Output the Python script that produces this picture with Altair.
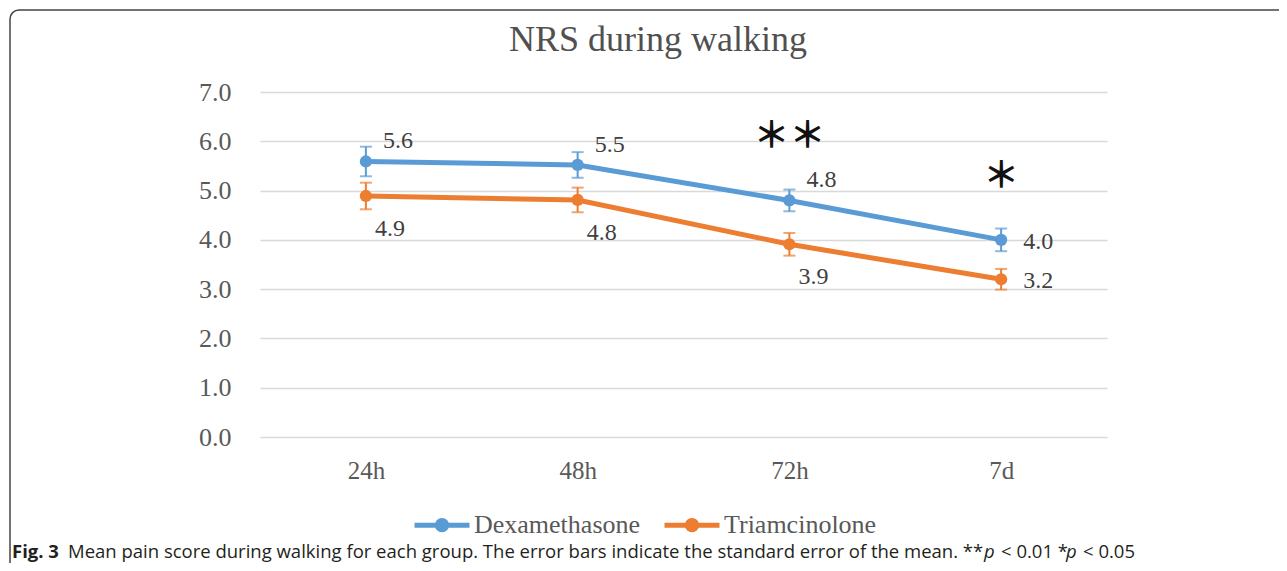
import altair as alt
import pandas as pd

# ---- data ----
timepoints = ["24h", "48h", "72h", "7d"]
series_names = ["Dexamethasone", "Triamcinolone"]
dex_mean = [5.59, 5.52, 4.80, 4.00]
dex_se = [0.30, 0.26, 0.22, 0.23]
tri_mean = [4.89, 4.81, 3.91, 3.20]
tri_se = [0.27, 0.25, 0.23, 0.21]
significance = ["", "", "**", "*"]
y_ticks = [0, 1, 2, 3, 4, 5, 6, 7]

title_text = "NRS during walking"
caption_bold = "Fig. 3"
caption_main = "Mean pain score during walking for each group. The error bars indicate the standard error of the mean. **"
caption_p = "p"
caption_mid = "< 0.01 *"
caption_end = "< 0.05"

colors = ["#5B9BD5", "#ED7D31"]

rows = []
for name, means, ses in [(series_names[0], dex_mean, dex_se), (series_names[1], tri_mean, tri_se)]:
    for t, m, s in zip(timepoints, means, ses):
        rows.append({"time": t, "series": name, "mean": m, "lo": m - s, "hi": m + s,
                     "label": f"{m:.1f}"})
df = pd.DataFrame(rows)
sig_df = pd.DataFrame({"time": timepoints, "mean": dex_mean,
                       "sig": [s.replace("*", "＊") for s in significance]})
one = pd.DataFrame({"a": [0]})

SERIF = "Liberation Serif"
legend_path = "M-1,0H1M-0.17,0A0.17,0.17,0,1,0,0.17,0A0.17,0.17,0,1,0,-0.17,0Z"
leg = alt.Legend(orient="none", legendX=152, legendY=403, direction="horizontal", title=None,
                 symbolType=legend_path, symbolSize=3025, symbolStrokeWidth=5,
                 symbolOpacity=1, labelFont=SERIF, labelFontSize=26, labelColor="#595959",
                 columnPadding=13, labelOffset=2, padding=0, labelLimit=400)
cscale = alt.Scale(domain=series_names, range=colors)

x_enc = alt.X("time:N", sort=timepoints, scale=alt.Scale(type="point", padding=0.5),
              axis=alt.Axis(title=None, labelAngle=0, domain=False, ticks=False, grid=False,
                            labelFont=SERIF, labelFontSize=25, labelColor="#595959",
                            labelPadding=21))
y_enc = alt.Y("mean:Q", scale=alt.Scale(domain=[0, 7], nice=False, zero=True),
              axis=alt.Axis(title=None, values=y_ticks, format=".1f", grid=True,
                            gridColor="#d9d9d9", gridWidth=1.5, domain=False, ticks=False,
                            labelFont=SERIF, labelFontSize=26, labelColor="#595959",
                            labelPadding=29))

base = alt.Chart(df)

lines = base.mark_line(strokeWidth=5).encode(
    x=x_enc, y=y_enc, stroke=alt.Stroke("series:N", scale=cscale, legend=leg), detail="series:N")

err = base.mark_rule(strokeWidth=2).encode(
    x=alt.X("time:N", sort=timepoints), y="lo:Q", y2="hi:Q",
    stroke=alt.Stroke("series:N", scale=cscale, legend=leg))
cap_lo = base.mark_tick(orient="horizontal", size=12, thickness=2).encode(
    x=alt.X("time:N", sort=timepoints), y="lo:Q",
    color=alt.Color("series:N", scale=cscale, legend=None))
cap_hi = base.mark_tick(orient="horizontal", size=12, thickness=2).encode(
    x=alt.X("time:N", sort=timepoints), y="hi:Q",
    color=alt.Color("series:N", scale=cscale, legend=None))

points = base.mark_circle(size=150, opacity=1).encode(
    x=alt.X("time:N", sort=timepoints), y="mean:Q",
    fill=alt.Fill("series:N", scale=cscale, legend=leg))


def lbl(cond, dx, dy):
    return base.transform_filter(cond).mark_text(
        align="left", baseline="middle", dx=dx, dy=dy, font=SERIF, fontSize=24,
        color="#404040").encode(x=alt.X("time:N", sort=timepoints), y="mean:Q", text="label:N")


labels = [
    lbl("datum.series == 'Dexamethasone' && datum.time != '7d'", 17, -20),
    lbl("datum.series == 'Dexamethasone' && datum.time == '7d'", 22, 2),
    lbl("datum.series == 'Triamcinolone' && datum.time != '7d'", 9, 33),
    lbl("datum.series == 'Triamcinolone' && datum.time == '7d'", 22, 2),
]

stars = alt.Chart(sig_df).mark_text(
    align="center", baseline="middle", dy=-63, font="Noto Sans CJK JP", fontSize=36,
    fontWeight="bold", color="#111111").encode(
    x=alt.X("time:N", sort=timepoints), y="mean:Q", text="sig:N")

title = alt.Chart(one).mark_text(
    text=title_text, font=SERIF, fontSize=36, color="#505050", align="center",
    baseline="middle").encode(x=alt.value(398), y=alt.value(-52))

frame = alt.Chart(one).mark_rect(
    fillOpacity=0, stroke="#444444", strokeWidth=1.5, cornerRadius=9).encode(
    x=alt.value(-250), x2=alt.value(1150), y=alt.value(-82), y2=alt.value(600))

CAP = "Open Sans"
CS = 18.5
CAP_Y = 466


def cap(text, x, **kw):
    return alt.Chart(one).mark_text(text=text, font=CAP, fontSize=CS, align="left",
                                    baseline="alphabetic", color="#231f20", **kw).encode(
        x=alt.value(x), y=alt.value(CAP_Y))


caps = [
    cap(caption_bold, -248, fontWeight="bold"),
    cap(caption_main, -192),
    cap(caption_p, 724, fontStyle="italic"),
    cap(caption_mid, 741),
    cap(caption_p, 806, fontStyle="italic"),
    cap(caption_end, 823),
]

chart = alt.layer(
    frame, lines, err, cap_lo, cap_hi, points, *labels, stars, title, *caps
).properties(
    width=847, height=345,
    padding={"left": 252, "top": 84, "right": 172, "bottom": 126},
    autosize=alt.AutoSizeParams(type="none"),
).configure(background="white").configure_view(stroke=None)

chart.save("out.html", embed_options={"renderer": "svg", "actions": False})
